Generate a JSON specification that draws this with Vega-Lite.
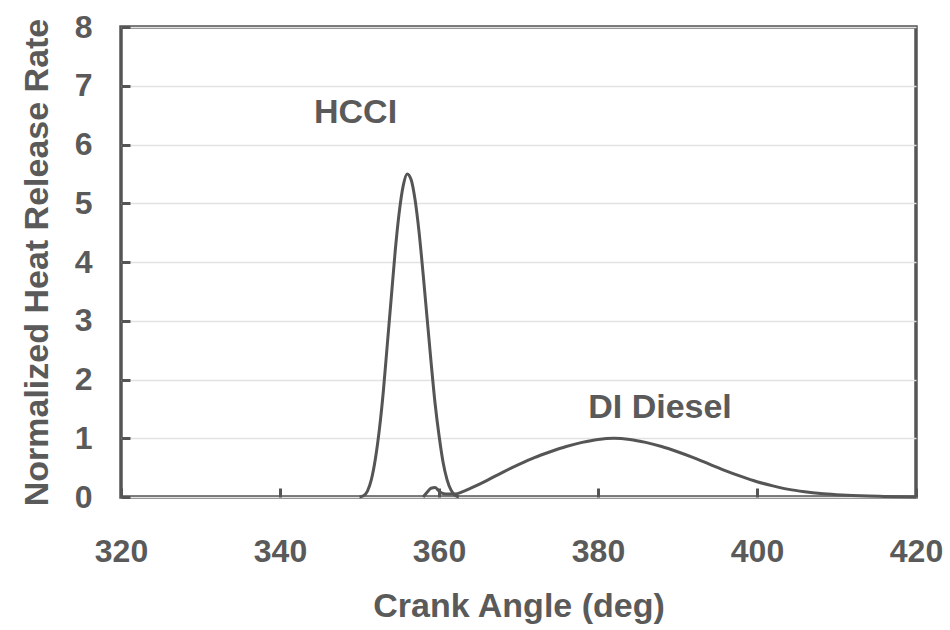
{
  "$schema": "https://vega.github.io/schema/vega-lite/v6.json",
  "width": 795,
  "height": 470,
  "autosize": {"type": "none"},
  "padding": {"left": 121, "top": 27, "right": 34, "bottom": 133},
  "background": "white",
  "config": {
    "view": {"stroke": "#555555", "strokeWidth": 3.5},
    "font": "Liberation Sans",
    "axis": {
      "labelFont": "Liberation Sans",
      "labelFontWeight": "bold",
      "labelColor": "#5a5a5a",
      "labelFontSize": 32,
      "labelFlush": false,
      "labelOverlap": false,
      "format": "d",
      "titleFont": "Liberation Sans",
      "titleFontWeight": "bold",
      "titleColor": "#5a5a5a",
      "titleFontSize": 34,
      "domain": false,
      "tickColor": "#555555",
      "tickWidth": 3,
      "tickSize": -9
    }
  },
  "datasets": {
    "curves": [
      {"angle": 350.0, "rate": 0.0, "engine": "HCCI"},
      {"angle": 350.5, "rate": 0.02, "engine": "HCCI"},
      {"angle": 351.0, "rate": 0.1, "engine": "HCCI"},
      {"angle": 351.5, "rate": 0.3, "engine": "HCCI"},
      {"angle": 352.0, "rate": 0.65, "engine": "HCCI"},
      {"angle": 352.5, "rate": 1.15, "engine": "HCCI"},
      {"angle": 353.0, "rate": 1.8, "engine": "HCCI"},
      {"angle": 353.5, "rate": 2.6, "engine": "HCCI"},
      {"angle": 354.0, "rate": 3.4, "engine": "HCCI"},
      {"angle": 354.5, "rate": 4.2, "engine": "HCCI"},
      {"angle": 355.0, "rate": 4.85, "engine": "HCCI"},
      {"angle": 355.5, "rate": 5.3, "engine": "HCCI"},
      {"angle": 356.0, "rate": 5.5, "engine": "HCCI"},
      {"angle": 356.5, "rate": 5.4, "engine": "HCCI"},
      {"angle": 357.0, "rate": 5.05, "engine": "HCCI"},
      {"angle": 357.5, "rate": 4.5, "engine": "HCCI"},
      {"angle": 358.0, "rate": 3.8, "engine": "HCCI"},
      {"angle": 358.5, "rate": 3.05, "engine": "HCCI"},
      {"angle": 359.0, "rate": 2.3, "engine": "HCCI"},
      {"angle": 359.5, "rate": 1.6, "engine": "HCCI"},
      {"angle": 360.0, "rate": 1.05, "engine": "HCCI"},
      {"angle": 360.5, "rate": 0.6, "engine": "HCCI"},
      {"angle": 361.0, "rate": 0.3, "engine": "HCCI"},
      {"angle": 361.5, "rate": 0.12, "engine": "HCCI"},
      {"angle": 362.0, "rate": 0.03, "engine": "HCCI"},
      {"angle": 362.5, "rate": 0.0, "engine": "HCCI"},
      {"angle": 358.0, "rate": 0.0, "engine": "DI Diesel"},
      {"angle": 358.5, "rate": 0.08, "engine": "DI Diesel"},
      {"angle": 359.0, "rate": 0.15, "engine": "DI Diesel"},
      {"angle": 359.5, "rate": 0.16, "engine": "DI Diesel"},
      {"angle": 360.0, "rate": 0.1, "engine": "DI Diesel"},
      {"angle": 360.5, "rate": 0.06, "engine": "DI Diesel"},
      {"angle": 361.0, "rate": 0.05, "engine": "DI Diesel"},
      {"angle": 362.0, "rate": 0.05, "engine": "DI Diesel"},
      {"angle": 363.0, "rate": 0.09, "engine": "DI Diesel"},
      {"angle": 364.0, "rate": 0.15, "engine": "DI Diesel"},
      {"angle": 366.0, "rate": 0.28, "engine": "DI Diesel"},
      {"angle": 368.0, "rate": 0.42, "engine": "DI Diesel"},
      {"angle": 370.0, "rate": 0.55, "engine": "DI Diesel"},
      {"angle": 372.0, "rate": 0.67, "engine": "DI Diesel"},
      {"angle": 374.0, "rate": 0.77, "engine": "DI Diesel"},
      {"angle": 376.0, "rate": 0.86, "engine": "DI Diesel"},
      {"angle": 378.0, "rate": 0.93, "engine": "DI Diesel"},
      {"angle": 380.0, "rate": 0.98, "engine": "DI Diesel"},
      {"angle": 382.0, "rate": 1.0, "engine": "DI Diesel"},
      {"angle": 384.0, "rate": 0.98, "engine": "DI Diesel"},
      {"angle": 386.0, "rate": 0.93, "engine": "DI Diesel"},
      {"angle": 388.0, "rate": 0.86, "engine": "DI Diesel"},
      {"angle": 390.0, "rate": 0.77, "engine": "DI Diesel"},
      {"angle": 392.0, "rate": 0.67, "engine": "DI Diesel"},
      {"angle": 394.0, "rate": 0.56, "engine": "DI Diesel"},
      {"angle": 396.0, "rate": 0.45, "engine": "DI Diesel"},
      {"angle": 398.0, "rate": 0.35, "engine": "DI Diesel"},
      {"angle": 400.0, "rate": 0.26, "engine": "DI Diesel"},
      {"angle": 402.0, "rate": 0.19, "engine": "DI Diesel"},
      {"angle": 404.0, "rate": 0.13, "engine": "DI Diesel"},
      {"angle": 406.0, "rate": 0.09, "engine": "DI Diesel"},
      {"angle": 408.0, "rate": 0.06, "engine": "DI Diesel"},
      {"angle": 410.0, "rate": 0.04, "engine": "DI Diesel"},
      {"angle": 412.0, "rate": 0.025, "engine": "DI Diesel"},
      {"angle": 414.0, "rate": 0.015, "engine": "DI Diesel"},
      {"angle": 416.0, "rate": 0.01, "engine": "DI Diesel"},
      {"angle": 418.0, "rate": 0.005, "engine": "DI Diesel"},
      {"angle": 420.0, "rate": 0.0, "engine": "DI Diesel"}
    ],
    "labels": [
      {"angle": 349.5, "rate": 6.54, "text": "HCCI"},
      {"angle": 387.8, "rate": 1.51, "text": "DI Diesel"}
    ]
  },
  "layer": [
    {
      "data": {"name": "curves"},
      "mark": {"type": "line", "color": "#555555", "strokeWidth": 3, "interpolate": "monotone"},
      "encoding": {
        "x": {
          "field": "angle",
          "type": "quantitative",
          "title": "Crank Angle (deg)",
          "scale": {"domain": [320, 420], "nice": false},
          "axis": {"values": [320, 340, 360, 380, 400, 420], "grid": false, "labelPadding": 48, "titlePadding": 22}
        },
        "y": {
          "field": "rate",
          "type": "quantitative",
          "title": "Normalized Heat Release Rate",
          "scale": {"domain": [0, 8], "nice": false},
          "axis": {
            "values": [0, 1, 2, 3, 4, 5, 6, 7, 8],
            "grid": true,
            "gridColor": "#e2e2e2",
            "gridWidth": 1.5,
            "labelPadding": 38,
            "titlePadding": 20
          }
        },
        "detail": {"field": "engine"}
      }
    },
    {
      "data": {"name": "labels"},
      "mark": {"type": "text", "font": "Liberation Sans", "fontWeight": "bold", "fontSize": 34, "color": "#5a5a5a", "align": "center", "baseline": "middle"},
      "encoding": {
        "x": {"field": "angle", "type": "quantitative"},
        "y": {"field": "rate", "type": "quantitative"},
        "text": {"field": "text"}
      }
    }
  ]
}
